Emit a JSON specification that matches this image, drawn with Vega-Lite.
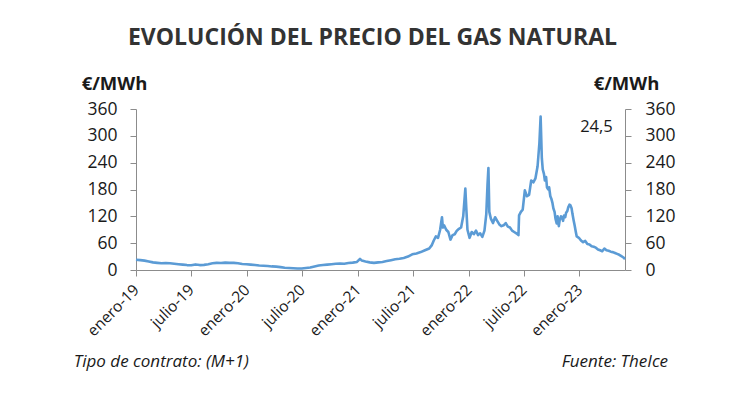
{
  "$schema": "https://vega.github.io/schema/vega-lite/v6.json",
  "width": 489,
  "height": 161,
  "autosize": {"type": "none"},
  "padding": {"left": 136, "top": 109, "right": 125, "bottom": 138},
  "background": "white",
  "config": {
    "view": {"stroke": null},
    "font": "Open Sans",
    "axis": {"grid": false, "domainColor": "#8c8c8c", "tickColor": "#8c8c8c", "labelColor": "#1a1a1a", "labelFont": "Open Sans", "titleFont": "Open Sans", "titleColor": "#1a1a1a"}
  },
  "title": {"text": "EVOLUCIÓN DEL PRECIO DEL GAS NATURAL", "font": "Open Sans", "fontSize": 23, "fontWeight": "bold", "color": "#333333", "anchor": "middle", "dx": -8, "offset": 24},
  "datasets": {
    "gas": [
      {"date": "2019-01-01", "price": 23}, {"date": "2019-01-15", "price": 22}, {"date": "2019-01-29", "price": 21},
      {"date": "2019-02-12", "price": 19}, {"date": "2019-02-26", "price": 17}, {"date": "2019-03-12", "price": 16},
      {"date": "2019-03-26", "price": 15}, {"date": "2019-04-09", "price": 15.5}, {"date": "2019-04-23", "price": 15},
      {"date": "2019-05-07", "price": 14}, {"date": "2019-05-21", "price": 13}, {"date": "2019-06-04", "price": 12},
      {"date": "2019-06-18", "price": 11}, {"date": "2019-07-02", "price": 10.5}, {"date": "2019-07-16", "price": 12.5},
      {"date": "2019-07-30", "price": 11}, {"date": "2019-08-13", "price": 11.5}, {"date": "2019-08-27", "price": 13},
      {"date": "2019-09-10", "price": 15}, {"date": "2019-09-24", "price": 16}, {"date": "2019-10-08", "price": 15.5},
      {"date": "2019-10-22", "price": 16.5}, {"date": "2019-11-05", "price": 16}, {"date": "2019-11-19", "price": 16},
      {"date": "2019-12-03", "price": 15}, {"date": "2019-12-17", "price": 13.5}, {"date": "2019-12-31", "price": 13},
      {"date": "2020-01-14", "price": 12}, {"date": "2020-01-28", "price": 11}, {"date": "2020-02-11", "price": 10},
      {"date": "2020-02-25", "price": 9.5}, {"date": "2020-03-10", "price": 9}, {"date": "2020-03-24", "price": 8},
      {"date": "2020-04-07", "price": 7.5}, {"date": "2020-04-21", "price": 6.5}, {"date": "2020-05-05", "price": 5},
      {"date": "2020-05-19", "price": 4.5}, {"date": "2020-06-02", "price": 4}, {"date": "2020-06-16", "price": 3.5},
      {"date": "2020-06-30", "price": 3.5}, {"date": "2020-07-14", "price": 4.5}, {"date": "2020-07-28", "price": 5.5},
      {"date": "2020-08-11", "price": 8}, {"date": "2020-08-25", "price": 10}, {"date": "2020-09-08", "price": 11},
      {"date": "2020-09-22", "price": 12}, {"date": "2020-10-06", "price": 13}, {"date": "2020-10-20", "price": 14},
      {"date": "2020-11-03", "price": 14.5}, {"date": "2020-11-17", "price": 14}, {"date": "2020-12-01", "price": 15.5},
      {"date": "2020-12-15", "price": 16.5}, {"date": "2020-12-29", "price": 18}, {"date": "2021-01-08", "price": 25},
      {"date": "2021-01-14", "price": 21}, {"date": "2021-01-26", "price": 19}, {"date": "2021-02-09", "price": 17},
      {"date": "2021-02-23", "price": 16}, {"date": "2021-03-09", "price": 17}, {"date": "2021-03-23", "price": 18},
      {"date": "2021-04-06", "price": 20}, {"date": "2021-04-20", "price": 22}, {"date": "2021-05-04", "price": 24},
      {"date": "2021-05-18", "price": 25}, {"date": "2021-06-01", "price": 27}, {"date": "2021-06-15", "price": 30},
      {"date": "2021-06-29", "price": 35}, {"date": "2021-07-13", "price": 37}, {"date": "2021-07-27", "price": 40},
      {"date": "2021-08-10", "price": 44}, {"date": "2021-08-24", "price": 48}, {"date": "2021-09-01", "price": 55},
      {"date": "2021-09-08", "price": 66}, {"date": "2021-09-15", "price": 75}, {"date": "2021-09-22", "price": 72},
      {"date": "2021-09-29", "price": 90}, {"date": "2021-10-05", "price": 118}, {"date": "2021-10-08", "price": 95},
      {"date": "2021-10-12", "price": 100}, {"date": "2021-10-19", "price": 90}, {"date": "2021-10-26", "price": 85},
      {"date": "2021-11-02", "price": 68}, {"date": "2021-11-09", "price": 78}, {"date": "2021-11-16", "price": 80},
      {"date": "2021-11-23", "price": 88}, {"date": "2021-11-30", "price": 92}, {"date": "2021-12-07", "price": 95},
      {"date": "2021-12-14", "price": 120}, {"date": "2021-12-21", "price": 182}, {"date": "2021-12-24", "price": 140},
      {"date": "2021-12-28", "price": 90}, {"date": "2022-01-04", "price": 72}, {"date": "2022-01-11", "price": 85},
      {"date": "2022-01-18", "price": 80}, {"date": "2022-01-25", "price": 88}, {"date": "2022-02-01", "price": 78},
      {"date": "2022-02-08", "price": 82}, {"date": "2022-02-15", "price": 74}, {"date": "2022-02-22", "price": 88},
      {"date": "2022-02-28", "price": 125}, {"date": "2022-03-04", "price": 190}, {"date": "2022-03-07", "price": 228},
      {"date": "2022-03-10", "price": 130}, {"date": "2022-03-15", "price": 115}, {"date": "2022-03-22", "price": 105},
      {"date": "2022-03-29", "price": 118}, {"date": "2022-04-05", "price": 110}, {"date": "2022-04-12", "price": 102},
      {"date": "2022-04-19", "price": 98}, {"date": "2022-04-26", "price": 100}, {"date": "2022-05-03", "price": 105},
      {"date": "2022-05-10", "price": 97}, {"date": "2022-05-17", "price": 95}, {"date": "2022-05-24", "price": 88},
      {"date": "2022-05-31", "price": 85}, {"date": "2022-06-07", "price": 82}, {"date": "2022-06-14", "price": 78},
      {"date": "2022-06-16", "price": 122}, {"date": "2022-06-22", "price": 130}, {"date": "2022-06-28", "price": 135},
      {"date": "2022-07-05", "price": 178}, {"date": "2022-07-12", "price": 165}, {"date": "2022-07-19", "price": 168},
      {"date": "2022-07-26", "price": 200}, {"date": "2022-08-02", "price": 196}, {"date": "2022-08-09", "price": 205},
      {"date": "2022-08-16", "price": 232}, {"date": "2022-08-22", "price": 284}, {"date": "2022-08-26", "price": 343},
      {"date": "2022-08-30", "price": 250}, {"date": "2022-09-02", "price": 225}, {"date": "2022-09-06", "price": 215},
      {"date": "2022-09-09", "price": 200}, {"date": "2022-09-13", "price": 208}, {"date": "2022-09-16", "price": 185},
      {"date": "2022-09-20", "price": 180}, {"date": "2022-09-23", "price": 185}, {"date": "2022-09-27", "price": 165},
      {"date": "2022-09-30", "price": 160}, {"date": "2022-10-04", "price": 150}, {"date": "2022-10-07", "price": 138},
      {"date": "2022-10-11", "price": 130}, {"date": "2022-10-14", "price": 115}, {"date": "2022-10-18", "price": 104},
      {"date": "2022-10-21", "price": 120}, {"date": "2022-10-25", "price": 98}, {"date": "2022-10-28", "price": 112},
      {"date": "2022-11-01", "price": 120}, {"date": "2022-11-04", "price": 118}, {"date": "2022-11-08", "price": 110},
      {"date": "2022-11-11", "price": 122}, {"date": "2022-11-15", "price": 118}, {"date": "2022-11-18", "price": 128},
      {"date": "2022-11-22", "price": 132}, {"date": "2022-11-25", "price": 140}, {"date": "2022-11-29", "price": 146},
      {"date": "2022-12-02", "price": 145}, {"date": "2022-12-06", "price": 138}, {"date": "2022-12-09", "price": 125},
      {"date": "2022-12-13", "price": 110}, {"date": "2022-12-16", "price": 100}, {"date": "2022-12-20", "price": 85},
      {"date": "2022-12-23", "price": 75}, {"date": "2022-12-30", "price": 72}, {"date": "2023-01-06", "price": 66},
      {"date": "2023-01-13", "price": 62}, {"date": "2023-01-20", "price": 65}, {"date": "2023-01-27", "price": 58},
      {"date": "2023-02-03", "price": 57}, {"date": "2023-02-10", "price": 53}, {"date": "2023-02-17", "price": 52},
      {"date": "2023-02-24", "price": 50}, {"date": "2023-03-03", "price": 46}, {"date": "2023-03-10", "price": 44},
      {"date": "2023-03-17", "price": 42}, {"date": "2023-03-24", "price": 48}, {"date": "2023-03-31", "price": 44},
      {"date": "2023-04-07", "price": 43}, {"date": "2023-04-14", "price": 41}, {"date": "2023-04-21", "price": 40},
      {"date": "2023-04-28", "price": 38}, {"date": "2023-05-05", "price": 36}, {"date": "2023-05-12", "price": 34},
      {"date": "2023-05-19", "price": 31}, {"date": "2023-05-26", "price": 28}, {"date": "2023-05-31", "price": 24.5}
    ],
    "notes": [
      {"label": "Tipo de contrato: (M+1)", "kind": "left"},
      {"label": "Fuente: TheIce", "kind": "right"}
    ]
  },
  "layer": [
    {
      "data": {"name": "gas"},
      "mark": {"type": "line", "color": "#5b9bd5", "strokeWidth": 2.6, "interpolate": "linear", "strokeJoin": "round"},
      "encoding": {
        "x": {
          "field": "date", "type": "temporal",
          "scale": {"type": "utc", "domain": [{"year": 2019, "month": 1, "date": 1, "utc": true}, {"year": 2023, "month": 5, "date": 31, "utc": true}]},
          "axis": {
            "title": null,
            "values": [
              {"year": 2019, "month": 1, "date": 1, "utc": true}, {"year": 2019, "month": 7, "date": 1, "utc": true},
              {"year": 2020, "month": 1, "date": 1, "utc": true}, {"year": 2020, "month": 7, "date": 1, "utc": true},
              {"year": 2021, "month": 1, "date": 1, "utc": true}, {"year": 2021, "month": 7, "date": 1, "utc": true},
              {"year": 2022, "month": 1, "date": 1, "utc": true}, {"year": 2022, "month": 7, "date": 1, "utc": true},
              {"year": 2023, "month": 1, "date": 1, "utc": true}
            ],
            "labelExpr": "(utcFormat(datum.value, '%m') == '01' ? 'enero-' : 'julio-') + utcFormat(datum.value, '%y')",
            "labelAngle": -45, "labelAlign": "right", "labelBaseline": "middle",
            "labelFontSize": 15.5, "labelPadding": 11, "tickSize": 6, "labelOverlap": false, "labelFlush": false
          }
        },
        "y": {
          "field": "price", "type": "quantitative",
          "scale": {"domain": [0, 360], "nice": false, "zero": true},
          "axis": {
            "values": [0, 60, 120, 180, 240, 300, 360],
            "title": "€/MWh", "titleAngle": 0, "titleAlign": "center", "titleBaseline": "alphabetic",
            "titleX": -22, "titleY": -20, "titleFontSize": 18.5, "titleFontWeight": "bold",
            "labelFontSize": 17.5, "labelPadding": 13, "tickSize": 6, "labelOverlap": false
          }
        }
      }
    },
    {
      "data": {"name": "gas"},
      "mark": {"type": "line", "opacity": 0},
      "encoding": {
        "x": {"field": "date", "type": "temporal"},
        "y": {
          "field": "price", "type": "quantitative",
          "scale": {"domain": [0, 360], "nice": false, "zero": true},
          "axis": {
            "orient": "right",
            "values": [0, 60, 120, 180, 240, 300, 360],
            "title": "€/MWh", "titleAngle": 0, "titleAlign": "center", "titleBaseline": "alphabetic",
            "titleX": 1, "titleY": -20, "titleFontSize": 18.5, "titleFontWeight": "bold",
            "labelFontSize": 17.5, "labelPadding": 14, "tickSize": 6, "labelOverlap": false
          }
        }
      }
    },
    {
      "data": {"values": [{"label": "24,5"}]},
      "mark": {"type": "text", "font": "Open Sans", "fontSize": 16.5, "color": "#1a1a1a", "align": "center", "baseline": "middle"},
      "encoding": {
        "x": {"datum": {"year": 2023, "month": 2, "date": 26, "utc": true}, "type": "temporal"},
        "y": {"datum": 320, "type": "quantitative", "scale": {"domain": [0, 360], "nice": false}, "axis": null},
        "text": {"field": "label"}
      }
    },
    {
      "data": {"name": "notes"},
      "transform": [{"filter": "datum.kind == 'left'"}],
      "mark": {"type": "text", "font": "Open Sans", "fontSize": 17, "fontStyle": "italic", "color": "#1a1a1a", "align": "left", "baseline": "middle"},
      "encoding": {
        "x": {"datum": {"year": 2018, "month": 6, "date": 10, "utc": true}, "type": "temporal"},
        "y": {"datum": -205, "type": "quantitative", "scale": {"domain": [0, 360], "nice": false}, "axis": null},
        "text": {"field": "label"}
      }
    },
    {
      "data": {"name": "notes"},
      "transform": [{"filter": "datum.kind == 'right'"}],
      "mark": {"type": "text", "font": "Open Sans", "fontSize": 17, "fontStyle": "italic", "color": "#1a1a1a", "align": "right", "baseline": "middle"},
      "encoding": {
        "x": {"datum": {"year": 2023, "month": 10, "date": 20, "utc": true}, "type": "temporal"},
        "y": {"datum": -205, "type": "quantitative", "scale": {"domain": [0, 360], "nice": false}, "axis": null},
        "text": {"field": "label"}
      }
    }
  ],
  "resolve": {"scale": {"y": "independent"}}
}
